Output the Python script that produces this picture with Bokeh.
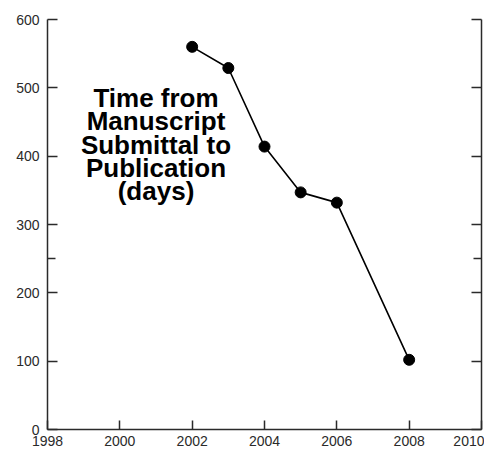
from bokeh.plotting import figure
from bokeh.models import LinearAxis, FixedTicker, Label, Range1d
from bokeh.embed import file_html
from bokeh.resources import INLINE

years = [2002, 2003, 2004, 2005, 2006, 2008]
days = [560, 529, 414, 347, 332, 102]
x_ticks = [1998, 2000, 2002, 2004, 2006, 2008, 2010]
y_ticks = [0, 100, 200, 300, 400, 500, 600]
y_minor = [250]
note = "Time from\nManuscript\nSubmittal to\nPublication\n(days)"

p = figure(width=484, height=448, output_backend="svg", toolbar_location=None,
           x_range=Range1d(1998, 2010), y_range=Range1d(0, 600),
           min_border_left=47, min_border_right=3, min_border_top=19, min_border_bottom=18,
           x_axis_location=None, y_axis_location=None)
p.grid.visible = False
p.outline_line_color = None
p.background_fill_color = "white"

dark = "#2a2a2a"
font = "Liberation Sans"

xax = LinearAxis(ticker=FixedTicker(ticks=x_ticks))
xax.major_tick_in = 9
xax.major_tick_out = 0
xax.minor_tick_in = 0
xax.minor_tick_out = 0
xax.major_label_standoff = 6
xax.major_label_text_font = font
xax.major_label_text_font_size = "14px"
xax.major_label_text_color = dark
xax.axis_line_color = dark
xax.axis_line_width = 1.5
xax.major_tick_line_color = dark
xax.major_tick_line_width = 1.5
p.add_layout(xax, "below")

for side in ("left", "right"):
    ax = LinearAxis(ticker=FixedTicker(ticks=y_ticks, minor_ticks=y_minor))
    ax.major_tick_in = 10
    ax.major_tick_out = 0
    ax.minor_tick_in = 8
    ax.minor_tick_out = 0
    ax.axis_line_color = dark
    ax.axis_line_width = 1.5
    ax.major_tick_line_color = dark
    ax.major_tick_line_width = 1.5
    ax.minor_tick_line_color = dark
    ax.minor_tick_line_width = 1.5
    if side == "left":
        ax.major_label_standoff = 8
        ax.major_label_text_font = font
        ax.major_label_text_font_size = "14px"
        ax.major_label_text_color = dark
    else:
        ax.major_label_standoff = 0
        ax.major_label_text_font_size = "0px"
        ax.major_label_text_color = None
    p.add_layout(ax, side)

p.line(years, days, line_color="black", line_width=1.6)
p.scatter(years, days, size=11, fill_color="black", line_color="black")

lab = Label(x=2001, y=417, text=note, text_align="center", text_baseline="middle",
            text_font=font, text_font_style="bold", text_font_size="26px",
            text_color="black", text_line_height=0.78)
p.add_layout(lab)

open("out.html", "w").write(file_html(p, INLINE))
